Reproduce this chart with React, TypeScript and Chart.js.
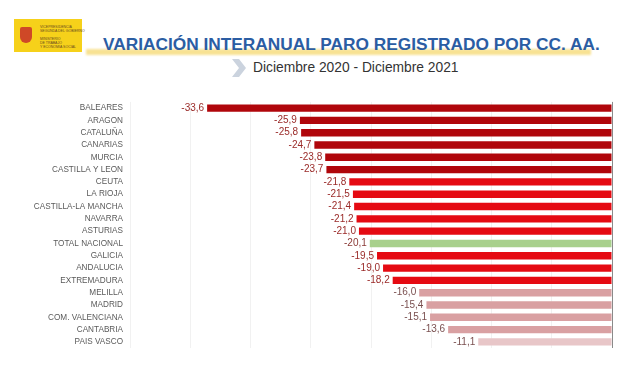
import React, { useEffect, useRef } from "react";
import { Chart, registerables } from "chart.js";

Chart.register(...registerables);

const categories = [
  "BALEARES", "ARAGON", "CATALUÑA", "CANARIAS", "MURCIA", "CASTILLA Y LEON",
  "CEUTA", "LA RIOJA", "CASTILLA-LA MANCHA", "NAVARRA", "ASTURIAS",
  "TOTAL NACIONAL", "GALICIA", "ANDALUCIA", "EXTREMADURA", "MELILLA",
  "MADRID", "COM. VALENCIANA", "CANTABRIA", "PAIS VASCO",
];
const values = [
  -33.6, -25.9, -25.8, -24.7, -23.8, -23.7, -21.8, -21.5, -21.4, -21.2, -21.0,
  -20.1, -19.5, -19.0, -18.2, -16.0, -15.4, -15.1, -13.6, -11.1,
];
const barColors = [
  "#B0060B", "#B0060B", "#B0060B", "#B0060B", "#B0060B", "#B0060B",
  "#E50A12", "#E50A12", "#E50A12", "#E50A12", "#E50A12",
  "#A8D08C", "#E50A12", "#E50A12", "#E50A12",
  "#D9A0A2", "#D9A0A2", "#D9A0A2", "#D9A0A2", "#E8C6C8",
];
const labelColors = [
  "#9A2A28", "#9A2A28", "#9A2A28", "#9A2A28", "#9A2A28", "#9A2A28",
  "#9A2A28", "#9A2A28", "#9A2A28", "#9A2A28", "#9A2A28",
  "#8A3A36", "#9A2A28", "#9A2A28", "#9A2A28",
  "#7A5050", "#7A5050", "#7A5050", "#7A5050", "#7A5050",
];
const title = "VARIACIÓN INTERANUAL PARO REGISTRADO POR CC. AA.";
const subtitle = "Diciembre 2020 - Diciembre 2021";

const valueLabels = {
  id: "valueLabels",
  afterDatasetsDraw(chart: any) {
    const ctx = chart.ctx;
    const meta = chart.getDatasetMeta(0);
    ctx.save();
    ctx.font = "10px 'Liberation Sans', Arial, sans-serif";
    ctx.textAlign = "right";
    ctx.textBaseline = "middle";
    meta.data.forEach((bar: any, i: number) => {
      ctx.fillStyle = labelColors[i];
      ctx.fillText(values[i].toFixed(1).replace(".", ","), bar.x - 3, bar.y);
    });
    ctx.restore();
  },
};

export default function App() {
  const ref = useRef<HTMLCanvasElement>(null);
  useEffect(() => {
    if (!ref.current) return;
    const chart = new Chart(ref.current, {
      type: "bar",
      data: {
        labels: categories,
        datasets: [
          {
            data: values,
            backgroundColor: barColors,
            barPercentage: 0.6,
            categoryPercentage: 1,
          },
        ],
      },
      options: {
        indexAxis: "y",
        animation: false,
        responsive: false,
        maintainAspectRatio: false,
        layout: { padding: { left: 0, right: 12, top: 9, bottom: 10 } },
        plugins: { legend: { display: false }, tooltip: { enabled: false } },
        scales: {
          x: {
            min: -40,
            max: 0,
            ticks: { display: false, stepSize: 5 },
            border: { display: false },
            grid: {
              drawTicks: false,
              color: (c: any) => (c.tick && c.tick.value === 0 ? "#8A8A8A" : "#F1F1F1"),
              lineWidth: 1,
            },
            afterFit: (s: any) => {
              s.height = 0;
            },
          },
          y: {
            ticks: {
              color: "#5A5A5A",
              font: { family: "'Liberation Sans', Arial, sans-serif", size: 8.2 },
              padding: 7,
              autoSkip: false,
            },
            grid: { display: false, drawTicks: false },
            border: { display: false },
            afterFit: (s: any) => {
              s.width = 130;
            },
          },
        },
      },
      plugins: [valueLabels],
    });
    return () => chart.destroy();
  }, []);

  return (
    <div
      style={{
        position: "fixed",
        left: 0,
        top: 0,
        width: 624,
        height: 385,
        background: "#FFFFFF",
        overflow: "hidden",
        fontFamily: "'Liberation Sans', Arial, sans-serif",
      }}
    >
      {/* logo */}
      <div
        style={{
          position: "absolute",
          left: 14,
          top: 19,
          width: 68,
          height: 33,
          background: "#F6D11A",
        }}
      >
        <div
          style={{
            position: "absolute",
            left: 6,
            top: 8,
            width: 12,
            height: 16,
            background: "#C8302A",
            borderRadius: "2px 2px 6px 6px",
            opacity: 0.85,
          }}
        />
        <div
          style={{
            position: "absolute",
            left: 26,
            top: 6,
            fontSize: 3.5,
            lineHeight: "4px",
            color: "#6A4A20",
            whiteSpace: "nowrap",
          }}
        >
          VICEPRESIDENCIA
          <br />
          SEGUNDA DEL GOBIERNO
          <br />
          <br />
          MINISTERIO
          <br />
          DE TRABAJO
          <br />
          Y ECONOMÍA SOCIAL
        </div>
      </div>
      {/* title highlight */}
      <div
        style={{
          position: "absolute",
          left: 86,
          top: 49,
          width: 505,
          height: 6,
          background: "#F7DB79",
          opacity: 0.8,
          filter: "blur(1px)",
        }}
      />
      <div
        style={{
          position: "absolute",
          left: 103,
          top: 34,
          fontSize: 17.3,
          fontWeight: "bold",
          color: "#2B5DA3",
          whiteSpace: "nowrap",
          lineHeight: "20px",
        }}
      >
        {title}
      </div>
      {/* chevron */}
      <svg
        style={{ position: "absolute", left: 231, top: 59 }}
        width={16}
        height={18}
      >
        <polygon points="1,0 8,0 15,9 8,18 1,18 8,9" fill="#CBD3DE" />
      </svg>
      <div
        style={{
          position: "absolute",
          left: 253,
          top: 60,
          fontSize: 13.8,
          color: "#333333",
          whiteSpace: "nowrap",
          lineHeight: "16px",
        }}
      >
        {subtitle}
      </div>
      <canvas
        ref={ref}
        width={624}
        height={270}
        style={{ position: "absolute", left: 0, top: 90, width: 624, height: 270 }}
      />
    </div>
  );
}
